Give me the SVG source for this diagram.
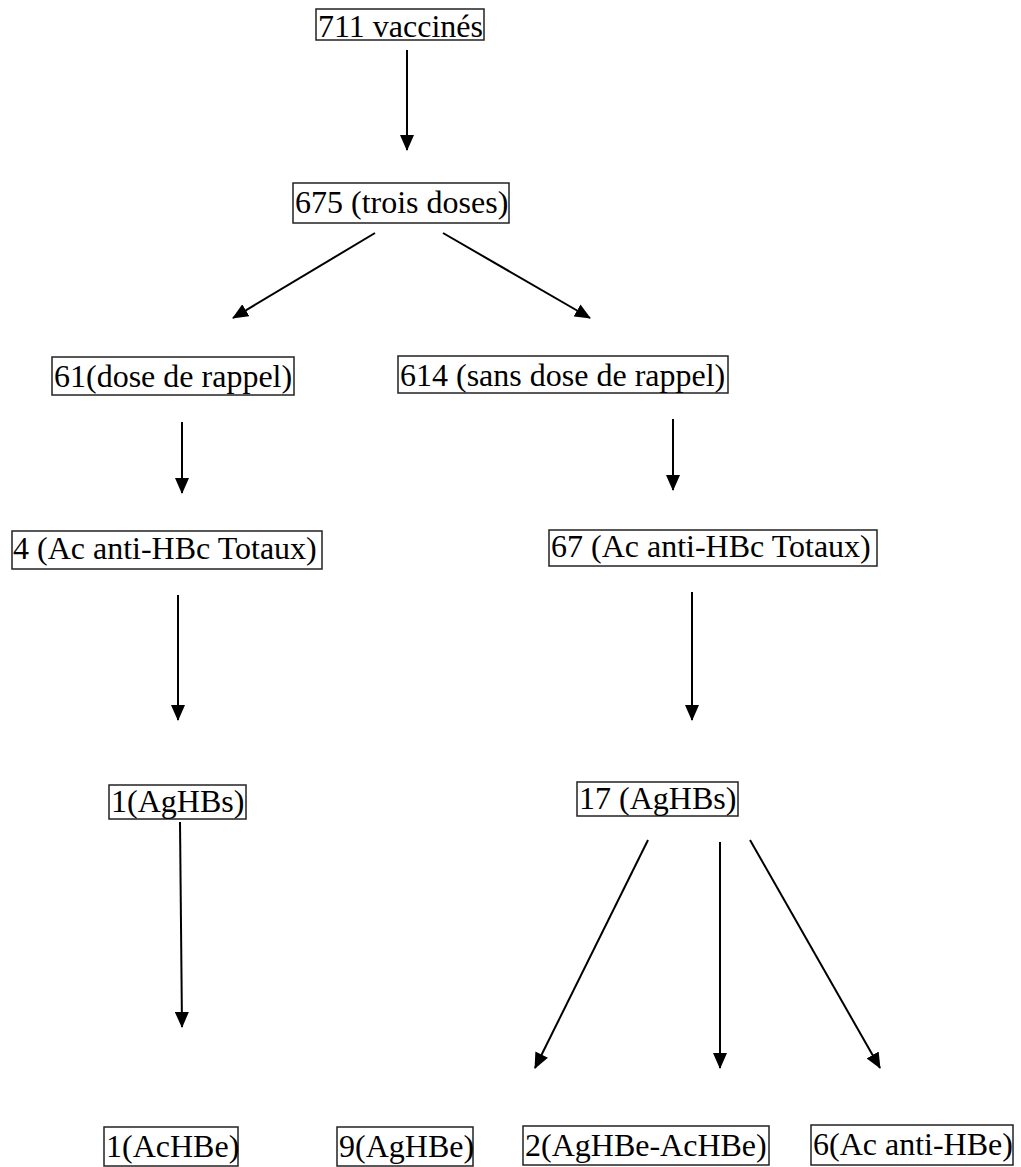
<svg xmlns="http://www.w3.org/2000/svg" width="1021" height="1167" viewBox="0 0 1021 1167">
<style>
.box{fill:#fff;stroke:#222;stroke-width:1.5}
.t{font-family:"Liberation Serif","Times New Roman",serif;font-size:32px;fill:#000}
.c{stroke:#000;stroke-width:2;fill:none;marker-end:url(#ah)}
</style>
<defs>
<marker id="ah" markerUnits="userSpaceOnUse" markerWidth="16" markerHeight="14" refX="15" refY="7" orient="auto">
<path d="M0,0 L16,7 L0,14 z" fill="#000"/>
</marker>
</defs>
<rect width="1021" height="1167" fill="#fff"/>
<g id="connectors">
<line class="c" x1="407" y1="50" x2="407" y2="150"/>
<line class="c" x1="375" y1="233" x2="233" y2="318"/>
<line class="c" x1="443" y1="233" x2="590" y2="318"/>
<line class="c" x1="182" y1="422" x2="182" y2="493"/>
<line class="c" x1="673" y1="419" x2="673" y2="490"/>
<line class="c" x1="178" y1="595" x2="178" y2="720"/>
<line class="c" x1="692" y1="592" x2="692" y2="720"/>
<line class="c" x1="180" y1="822" x2="182" y2="1027"/>
<line class="c" x1="648" y1="840" x2="535" y2="1068"/>
<line class="c" x1="720" y1="842" x2="720" y2="1068"/>
<line class="c" x1="750" y1="840" x2="880" y2="1068"/>
</g>
<g id="n711"><rect class="box" x="316" y="9" width="168" height="31"/><text class="t" x="318" y="37">711 vaccinés</text></g>
<g id="n675"><rect class="box" x="293" y="183" width="216" height="40"/><text class="t" x="295" y="213">675 (trois doses)</text></g>
<g id="n61"><rect class="box" x="52" y="357" width="242" height="38"/><text class="t" x="54" y="387">61(dose de rappel)</text></g>
<g id="n614"><rect class="box" x="398" y="356" width="330" height="37"/><text class="t" x="400" y="386">614 (sans dose de rappel)</text></g>
<g id="n4"><rect class="box" x="12" y="531" width="310" height="38"/><text class="t" x="13" y="559">4 (Ac anti-HBc Totaux)</text></g>
<g id="n67"><rect class="box" x="549" y="530" width="328" height="36"/><text class="t" x="551" y="557">67 (Ac anti-HBc Totaux)</text></g>
<g id="n1AgHBs"><rect class="box" x="109" y="785" width="137" height="34"/><text class="t" x="111" y="812">1(AgHBs)</text></g>
<g id="n17"><rect class="box" x="577" y="782" width="161" height="34"/><text class="t" x="579" y="809">17 (AgHBs)</text></g>
<g id="n1AcHBe"><rect class="box" x="104" y="1127" width="134" height="39"/><text class="t" x="106" y="1157">1(AcHBe)</text></g>
<g id="n9"><rect class="box" x="337" y="1127" width="136" height="39"/><text class="t" x="339" y="1157">9(AgHBe)</text></g>
<g id="n2"><rect class="box" x="523" y="1126" width="246" height="39"/><text class="t" x="525" y="1156">2(AgHBe-AcHBe)</text></g>
<g id="n6"><rect class="box" x="811" y="1125" width="202" height="40"/><text class="t" x="813" y="1155">6(Ac anti-HBe)</text></g>
</svg>
